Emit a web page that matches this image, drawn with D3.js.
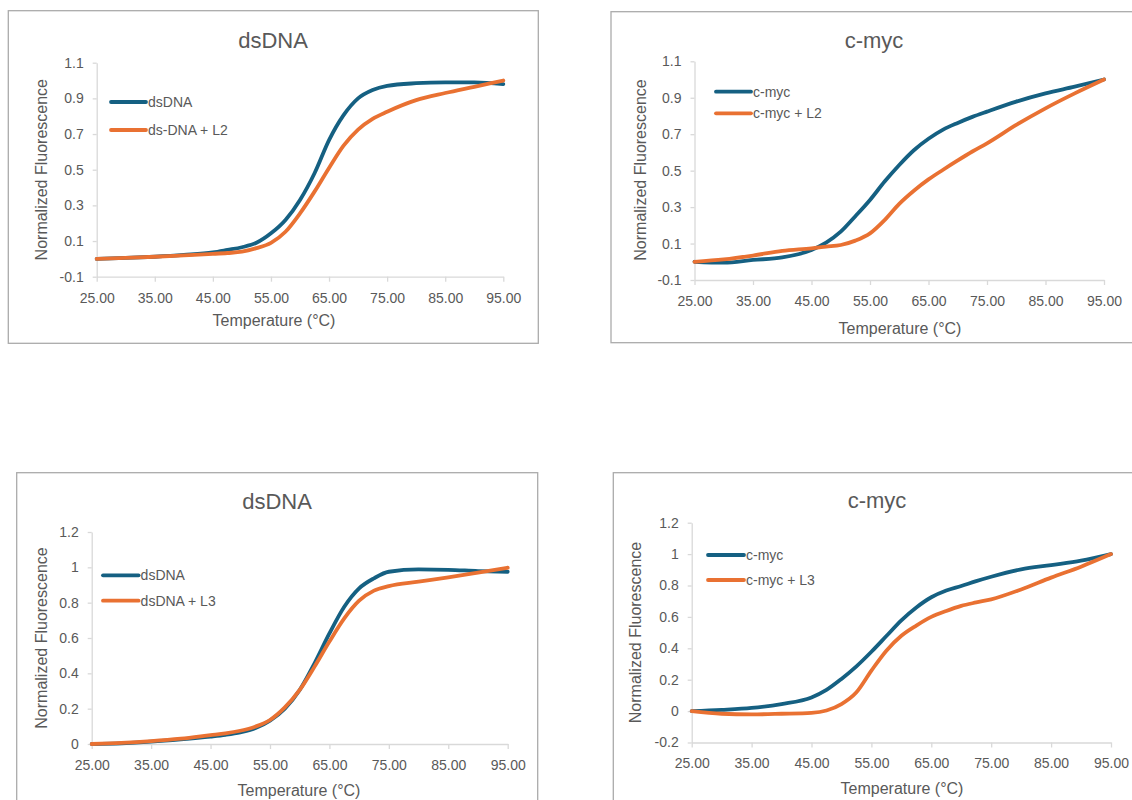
<!DOCTYPE html>
<html>
<head>
<meta charset="utf-8">
<script src="https://cdn.jsdelivr.net/npm/d3@7"></script>
<style>
  html, body { margin: 0; padding: 0; background: #fff; }
  svg { display: block; font-family: "Liberation Sans", Arial, sans-serif; }
</style>
</head>
<body>
<svg id="chart" width="1132" height="800"></svg>
<script>
// ---------------- DATA ----------------
const temperatures = [25, 30, 35, 40, 45, 47.5, 50, 52.5, 55, 57.5, 60, 62.5, 65, 67.5, 70, 72.5, 75, 80, 85, 90, 95];

const dsDNA_A      = [0, 0.005, 0.012, 0.022, 0.036, 0.05, 0.065, 0.09, 0.143, 0.218, 0.33, 0.48, 0.666, 0.806, 0.9, 0.947, 0.97, 0.985, 0.99, 0.99, 0.98];
const dsDNA_L2     = [0, 0.005, 0.012, 0.02, 0.028, 0.033, 0.04, 0.06, 0.09, 0.152, 0.255, 0.377, 0.51, 0.635, 0.725, 0.785, 0.825, 0.89, 0.93, 0.965, 1.0];

const cmyc_A       = [0, -0.005, 0.01, 0.024, 0.065, 0.105, 0.165, 0.25, 0.339, 0.44, 0.531, 0.612, 0.675, 0.725, 0.762, 0.795, 0.824, 0.879, 0.924, 0.961, 1.0];
const cmyc_L2      = [0, 0.013, 0.034, 0.06, 0.074, 0.083, 0.092, 0.116, 0.156, 0.229, 0.318, 0.39, 0.452, 0.505, 0.556, 0.605, 0.65, 0.751, 0.842, 0.924, 1.0];

const dsDNA_B      = [0, 0.004, 0.013, 0.026, 0.042, 0.052, 0.066, 0.089, 0.132, 0.2, 0.306, 0.457, 0.626, 0.777, 0.881, 0.938, 0.975, 0.988, 0.986, 0.979, 0.975];
const dsDNA_L3     = [0, 0.006, 0.016, 0.03, 0.05, 0.06, 0.075, 0.098, 0.136, 0.207, 0.306, 0.438, 0.58, 0.711, 0.811, 0.868, 0.894, 0.919, 0.943, 0.97, 0.998];

const cmyc_B       = [0, 0.008, 0.02, 0.045, 0.087, 0.135, 0.205, 0.285, 0.378, 0.478, 0.578, 0.66, 0.725, 0.768, 0.797, 0.828, 0.856, 0.903, 0.93, 0.958, 1.0];
const cmyc_L3      = [0, -0.017, -0.021, -0.017, -0.011, 0.004, 0.045, 0.12, 0.258, 0.385, 0.48, 0.545, 0.6, 0.638, 0.67, 0.692, 0.712, 0.775, 0.85, 0.92, 1.0];

const xTicks = [25, 35, 45, 55, 65, 75, 85, 95];
const yTicksOdd = [-0.1, 0.1, 0.3, 0.5, 0.7, 0.9, 1.1];
const yTicksPos = [0, 0.2, 0.4, 0.6, 0.8, 1, 1.2];
const yTicksNeg = [-0.2, 0, 0.2, 0.4, 0.6, 0.8, 1, 1.2];

const titles = ["dsDNA", "c-myc", "dsDNA", "c-myc"];
const legendNames = [
  ["dsDNA", "ds-DNA + L2"],
  ["c-myc", "c-myc + L2"],
  ["dsDNA", "dsDNA + L3"],
  ["c-myc", "c-myc + L3"]
];
const seriesValues = [
  [dsDNA_A, dsDNA_L2],
  [cmyc_A, cmyc_L2],
  [dsDNA_B, dsDNA_L3],
  [cmyc_B, cmyc_L3]
];
const yTickSets = [yTicksOdd, yTicksOdd, yTicksPos, yTicksNeg];
const yDomains = [[-0.1, 1.1], [-0.1, 1.1], [0, 1.2], [-0.2, 1.2]];
const xAxisTitle = "Temperature (°C)";
const yAxisTitle = "Normalized Fluorescence";

// ---------------- LAYOUT ----------------
const colors = ["#156082", "#E97132"];
const textColor = "#595959";
const layouts = [
  { frame: [8.3, 10.7, 530, 332.6], x0: 96.7, x1: 503.3, yTop: 62.7, yBot: 276.7,
    title: [273, 48.3], xt: [274, 326], yt: [41.7, 169.7], leg: [111, 146, 102, 28] },
  { frame: [611, 11.7, 560, 331], x0: 694.5, x1: 1104, yTop: 61.3, yBot: 280,
    title: [874, 48], xt: [900, 334], yt: [640, 170], leg: [716, 751, 91.7, 21.6] },
  { frame: [16.7, 472.7, 521, 360], x0: 91.7, x1: 507.7, yTop: 532, yBot: 744,
    title: [277, 509.3], xt: [299, 796], yt: [41.7, 638], leg: [103, 138.6, 575.3, 25.4] },
  { frame: [613.3, 472.7, 560, 360], x0: 691.7, x1: 1111, yTop: 522.7, yBot: 742.5,
    title: [877, 508.3], xt: [902, 794], yt: [635, 632.5], leg: [708, 744, 555, 25] }
];

const svg = d3.select("#chart");
const fmtY = d => (Math.abs(d) < 1e-9 ? "0" : String(+d.toFixed(1)));

layouts.forEach((L, i) => {
  const g = svg.append("g");
  // chart area border
  g.append("rect")
    .attr("x", L.frame[0]).attr("y", L.frame[1])
    .attr("width", L.frame[2]).attr("height", L.frame[3])
    .attr("fill", "#fff").attr("stroke", "#ababab").attr("stroke-width", 1.3);

  const x = d3.scaleLinear().domain([25, 95]).range([L.x0, L.x1]);
  const y = d3.scaleLinear().domain(yDomains[i]).range([L.yBot, L.yTop]);

  // x axis
  const xa = g.append("g").attr("transform", `translate(0,${L.yBot})`)
    .call(d3.axisBottom(x).tickValues(xTicks).tickSize(5).tickSizeOuter(0).tickPadding(11)
      .tickFormat(d => d.toFixed(2)));
  // y axis
  const ya = g.append("g").attr("transform", `translate(${L.x0},0)`)
    .call(d3.axisLeft(y).tickValues(yTickSets[i]).tickSize(4).tickSizeOuter(0).tickPadding(9)
      .tickFormat(fmtY));
  [xa, ya].forEach(a => {
    a.select(".domain").attr("stroke", "#d9d9d9").attr("stroke-width", 1.3);
    a.selectAll(".tick line").attr("stroke", "#d9d9d9").attr("stroke-width", 1.3);
    a.selectAll(".tick text").attr("fill", textColor).attr("font-size", 14)
      .attr("font-family", "Liberation Sans, Arial, sans-serif");
  });

  // lines
  const line = d3.line().x((d, k) => x(temperatures[k])).y(d => y(d)).curve(d3.curveMonotoneX);
  seriesValues[i].forEach((vals, s) => {
    g.append("path").datum(vals)
      .attr("d", line)
      .attr("fill", "none").attr("stroke", colors[s]).attr("stroke-width", 3.8)
      .attr("stroke-linejoin", "round").attr("stroke-linecap", "round");
  });

  // title
  g.append("text").attr("x", L.title[0]).attr("y", L.title[1])
    .attr("text-anchor", "middle").attr("font-size", 22).attr("fill", textColor)
    .text(titles[i]);
  // x axis title
  g.append("text").attr("x", L.xt[0]).attr("y", L.xt[1])
    .attr("text-anchor", "middle").attr("font-size", 16).attr("fill", textColor)
    .text(xAxisTitle);
  // y axis title
  g.append("text")
    .attr("transform", `translate(${L.yt[0]},${L.yt[1]}) rotate(-90)`)
    .attr("text-anchor", "middle").attr("dy", "0.35em")
    .attr("font-size", 16).attr("fill", textColor)
    .text(yAxisTitle);

  // legend
  legendNames[i].forEach((name, s) => {
    const ly = L.leg[2] + s * L.leg[3];
    g.append("line").attr("x1", L.leg[0]).attr("x2", L.leg[1])
      .attr("y1", ly).attr("y2", ly)
      .attr("stroke", colors[s]).attr("stroke-width", 3.8).attr("stroke-linecap", "round");
    g.append("text").attr("x", L.leg[1] + 2).attr("y", ly).attr("dy", "0.36em")
      .attr("font-size", 14).attr("fill", textColor).text(name);
  });
});
</script>
</body>
</html>
